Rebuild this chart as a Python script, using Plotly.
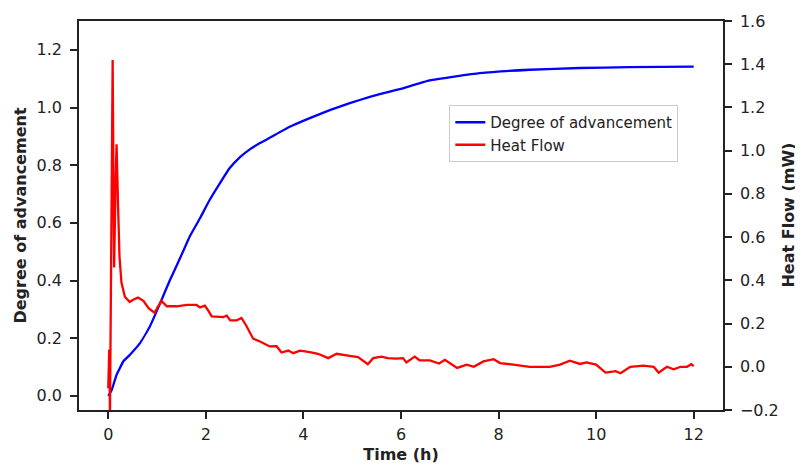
import plotly.graph_objects as go

# Degree of advancement (left axis)
adv_time = [0, 0.07, 0.17, 0.31, 0.44, 0.65, 0.85, 1.06, 1.26, 1.47, 1.67, 1.88, 2.08, 2.29,
            2.49, 2.7, 2.9, 3.11, 3.31, 3.72, 4.13, 4.54, 4.95, 5.36, 5.77, 6.0, 6.59, 7.61,
            8.64, 9.66, 10.68, 12.0]
adv_value = [0, 0.02, 0.073, 0.12, 0.142, 0.183, 0.24, 0.32, 0.40, 0.477, 0.553, 0.616, 0.68,
             0.738, 0.79, 0.828, 0.855, 0.877, 0.895, 0.933, 0.963, 0.991, 1.015, 1.037, 1.055,
             1.065, 1.094, 1.119, 1.131, 1.137, 1.140, 1.142]

# Heat flow (right axis, mW)
hf_time = [0.0, 0.01, 0.02, 0.035, 0.05, 0.07, 0.09, 0.105, 0.12, 0.145, 0.17, 0.2, 0.23, 0.27,
           0.34, 0.44, 0.51, 0.61, 0.72, 0.83, 0.95, 1.01, 1.09, 1.2, 1.4, 1.61, 1.81, 1.88,
           1.98, 2.05, 2.12, 2.36, 2.43, 2.5, 2.63, 2.73, 2.83, 2.97, 3.11, 3.31, 3.45, 3.55,
           3.69, 3.79, 3.93, 4.13, 4.3, 4.51, 4.68, 4.95, 5.12, 5.32, 5.43, 5.6, 5.73, 5.91,
           6.04, 6.11, 6.28, 6.38, 6.59, 6.78, 6.9, 7.15, 7.35, 7.49, 7.69, 7.9, 8.03, 8.3,
           8.5, 8.64, 8.85, 9.05, 9.26, 9.46, 9.67, 9.8, 10.0, 10.19, 10.4, 10.5, 10.7, 10.97,
           11.18, 11.28, 11.45, 11.59, 11.73, 11.86, 11.95, 12.0]
hf_value = [-0.1, 0.08, 0.08, -0.22, 0.3, 1.1, 1.42, 0.9, 0.46, 0.8, 1.03, 0.75, 0.51, 0.39,
            0.324, 0.30, 0.31, 0.32, 0.305, 0.27, 0.25, 0.275, 0.305, 0.28, 0.28, 0.286, 0.286,
            0.275, 0.283, 0.26, 0.233, 0.23, 0.237, 0.215, 0.215, 0.226, 0.19, 0.13, 0.117,
            0.094, 0.095, 0.066, 0.075, 0.063, 0.075, 0.068, 0.06, 0.04, 0.06, 0.05, 0.045,
            0.012, 0.04, 0.047, 0.04, 0.038, 0.04, 0.02, 0.047, 0.03, 0.03, 0.015, 0.032,
            -0.005, 0.01, 0.0, 0.025, 0.035, 0.017, 0.01, 0.005, 0.0, 0.0, 0.0, 0.01, 0.028,
            0.013, 0.02, 0.01, -0.027, -0.02, -0.03, 0.0, 0.005, 0.0, -0.027, 0.0, -0.012,
            0.0, 0.0, 0.012, 0.003]

x_ticks = [0, 2, 4, 6, 8, 10, 12]
y_ticks = [0.0, 0.2, 0.4, 0.6, 0.8, 1.0, 1.2]
y2_ticks = [-0.2, 0.0, 0.2, 0.4, 0.6, 0.8, 1.0, 1.2, 1.4, 1.6]

FONT = "DejaVu Sans"
AX = "#222222"

fig = go.Figure()
fig.add_trace(go.Scatter(x=adv_time, y=adv_value, mode="lines", name="Degree of advancement",
                         line=dict(color="#0000ff", width=2.3, shape="spline", smoothing=0.3)))
fig.add_trace(go.Scatter(x=hf_time, y=hf_value, mode="lines", name="Heat Flow", yaxis="y2",
                         line=dict(color="#ff0000", width=2.3)))

axis_common = dict(showgrid=False, zeroline=False, showline=True, linecolor=AX, linewidth=1.5,
                   ticks="outside", ticklen=7, tickwidth=1.5, tickcolor=AX, automargin=False,
                   tickfont=dict(family=FONT, size=16, color=AX))

# page body adds an 8px offset; figure sized to fit the 803x465 window
fig.update_layout(
    width=795, height=457,
    margin=dict(l=71, r=80, t=13, b=55),
    plot_bgcolor="white", paper_bgcolor="white",
    font=dict(family=FONT, color=AX),
    xaxis=dict(range=[-0.6, 12.6], tickvals=x_ticks, mirror=True, ticklabelstandoff=2,
               title=dict(text="<b>Time (h)</b>", font=dict(family=FONT, size=16), standoff=6),
               **axis_common),
    yaxis=dict(range=[-0.049, 1.30], tickvals=y_ticks, tickformat=".1f", ticklabelstandoff=5,
               **axis_common),
    yaxis2=dict(range=[-0.2, 1.6], tickvals=y2_ticks, tickformat=".1f", overlaying="y", side="right",
                ticklabelstandoff=5, **axis_common),
    legend=dict(x=0.575, y=0.784, xanchor="left", yanchor="top",
                bgcolor="white", bordercolor="#cccccc", borderwidth=1,
                font=dict(family=FONT, size=15, color=AX), tracegroupgap=0),
    showlegend=True,
    annotations=[
        dict(text="<b>Degree of advancement</b>", xref="paper", yref="paper",
             x=-0.0916, y=0.5, xanchor="center", yanchor="middle", textangle=-90,
             showarrow=False, font=dict(family=FONT, size=16, color=AX)),
        dict(text="<b>Heat Flow (mW)</b>", xref="paper", yref="paper",
             x=1.101, y=0.5, xanchor="center", yanchor="middle", textangle=-90,
             showarrow=False, font=dict(family=FONT, size=16, color=AX)),
    ],
)

fig.write_html("out.html")
